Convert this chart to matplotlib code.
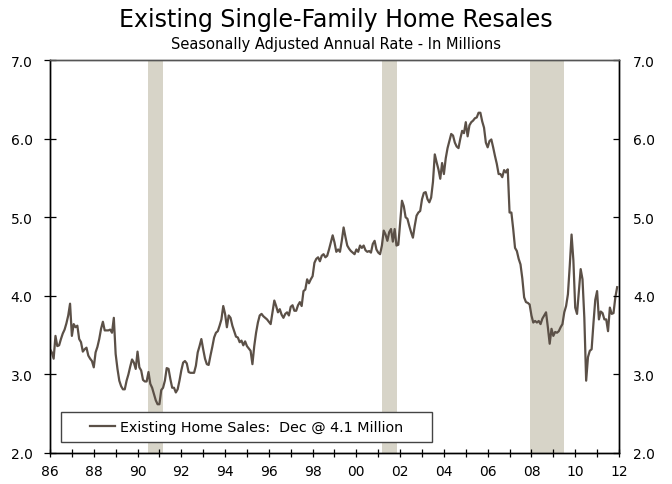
import numpy as np
import matplotlib
matplotlib.use("Agg")
import matplotlib.pyplot as plt
from matplotlib.patches import Rectangle

# monthly existing single-family home sales, SAAR, millions (Jan 1986 - Dec 2011)
start_year = 1986
sales = [
    3.32, 3.28, 3.20, 3.49, 3.36, 3.37, 3.45, 3.52, 3.57, 3.65, 3.75, 3.90,  # 86
    3.49, 3.64, 3.60, 3.62, 3.45, 3.41, 3.29, 3.32, 3.34, 3.24, 3.20, 3.17,  # 87
    3.09, 3.28, 3.35, 3.45, 3.58, 3.67, 3.56, 3.56, 3.56, 3.57, 3.53, 3.72,  # 88
    3.26, 3.07, 2.92, 2.85, 2.81, 2.81, 2.92, 3.00, 3.10, 3.19, 3.15, 3.07,  # 89
    3.29, 3.09, 3.05, 2.93, 2.91, 2.91, 3.03, 2.88, 2.83, 2.75, 2.67, 2.62,  # 90
    2.62, 2.80, 2.83, 2.92, 3.08, 3.07, 2.94, 2.83, 2.83, 2.77, 2.81, 2.92,  # 91
    3.05, 3.15, 3.17, 3.14, 3.03, 3.02, 3.02, 3.02, 3.11, 3.28, 3.36, 3.45,  # 92
    3.32, 3.20, 3.13, 3.12, 3.24, 3.35, 3.47, 3.53, 3.55, 3.62, 3.70, 3.87,  # 93
    3.77, 3.60, 3.75, 3.72, 3.62, 3.55, 3.48, 3.47, 3.41, 3.43, 3.37, 3.42,  # 94
    3.36, 3.33, 3.30, 3.13, 3.36, 3.53, 3.66, 3.75, 3.77, 3.74, 3.72, 3.70,  # 95
    3.67, 3.64, 3.79, 3.94, 3.87, 3.79, 3.83, 3.76, 3.72, 3.77, 3.79, 3.75,  # 96
    3.86, 3.88, 3.81, 3.81, 3.88, 3.92, 3.87, 4.06, 4.08, 4.21, 4.16, 4.21,  # 97
    4.25, 4.42, 4.47, 4.49, 4.44, 4.51, 4.53, 4.49, 4.51, 4.59, 4.68, 4.77,  # 98
    4.68, 4.56, 4.59, 4.56, 4.70, 4.87, 4.75, 4.64, 4.60, 4.57, 4.55, 4.53,  # 99
    4.59, 4.56, 4.64, 4.61, 4.64, 4.58, 4.56, 4.57, 4.55, 4.66, 4.70, 4.59,  # 00
    4.55, 4.53, 4.64, 4.83, 4.78, 4.70, 4.81, 4.85, 4.69, 4.85, 4.64, 4.65,  # 01
    4.93, 5.21, 5.14, 5.00, 4.98, 4.89, 4.81, 4.74, 4.89, 5.02, 5.06, 5.08,  # 02
    5.23, 5.31, 5.32, 5.23, 5.19, 5.25, 5.45, 5.80, 5.70, 5.61, 5.49, 5.69,  # 03
    5.55, 5.75, 5.88, 5.97, 6.06, 6.04, 5.95, 5.90, 5.88, 6.00, 6.10, 6.07,  # 04
    6.21, 6.03, 6.17, 6.21, 6.23, 6.26, 6.27, 6.33, 6.33, 6.22, 6.14, 5.95,  # 05
    5.89, 5.97, 5.99, 5.89, 5.78, 5.68, 5.55, 5.55, 5.51, 5.60, 5.57, 5.61,  # 06
    5.06, 5.06, 4.85, 4.61, 4.57, 4.47, 4.40, 4.22, 3.98, 3.92, 3.91, 3.89,  # 07
    3.75, 3.66, 3.68, 3.66, 3.68, 3.64, 3.71, 3.75, 3.79, 3.60, 3.39, 3.58,  # 08
    3.49, 3.54, 3.53, 3.55, 3.60, 3.64, 3.79, 3.87, 4.02, 4.38, 4.78, 4.45,  # 09
    3.85, 3.77, 4.05, 4.34, 4.21, 3.72, 2.92, 3.22, 3.30, 3.32, 3.65, 3.95,  # 10
    4.06, 3.70, 3.80, 3.78, 3.70, 3.70, 3.55, 3.85, 3.77, 3.78, 3.98, 4.11,  # 11
]

# NBER recessions (decimal years)
rec_start = [1990.5, 2001.17, 2007.92]
rec_end = [1991.17, 2001.87, 2009.5]

year_ticks = list(range(1986, 2013, 2))
year_labels = ["86", "88", "90", "92", "94", "96", "98", "00", "02", "04", "06", "08", "10", "12"]
y_ticks = [2.0, 3.0, 4.0, 5.0, 6.0, 7.0]

line_color = "#5b5047"
bar_color = "#d7d4c8"

x = start_year + np.arange(len(sales)) / 12.0

fig = plt.figure(figsize=(6.72, 4.85), dpi=100)
ax = fig.add_axes([0.0744, 0.064, 0.8467, 0.810])

for s, e in zip(rec_start, rec_end):
    ax.axvspan(s, e, color=bar_color, lw=0, zorder=1)

ax.plot(x, sales, color=line_color, lw=1.6, zorder=3,
        label="Existing Home Sales:  Dec @ 4.1 Million")

ax.set_xlim(1986, 2012)
ax.set_ylim(2.0, 7.0)
ax.set_xticks(year_ticks)
ax.set_xticklabels(year_labels)
ax.set_xticks(range(1987, 2012, 2), minor=True)
ax.set_yticks(y_ticks)
ax.set_yticklabels(["%.1f" % v for v in y_ticks])

ax.tick_params(axis="x", which="both", direction="inout", length=6, width=0.9,
               labelsize=10, pad=5, color="black")
ax.tick_params(axis="y", direction="inout", length=9, width=0.9,
               labelsize=10, pad=8)

ax2 = ax.twinx()
ax2.set_ylim(2.0, 7.0)
ax2.set_yticks(y_ticks)
ax2.set_yticklabels(["%.1f" % v for v in y_ticks])
ax2.tick_params(axis="y", direction="in", length=4, width=0.9, labelsize=10, pad=10)

for a in (ax, ax2):
    for side in ("left", "right", "bottom"):
        a.spines[side].set_color("black")
        a.spines[side].set_linewidth(1.0)
    a.spines["top"].set_color("#555555")
    a.spines["top"].set_linewidth(1.0)

# legend box
box = Rectangle((0.0193, 0.028), 0.652, 0.0763, transform=ax.transAxes,
                facecolor="white", edgecolor="#444444", lw=1.0, zorder=4)
ax.add_patch(box)
leg = ax.legend(loc="center", bbox_to_anchor=(0.345, 0.066), frameon=False,
                fontsize=10.3, handlelength=1.8, handletextpad=0.3)
leg.set_zorder(5)

fig.text(0.5, 0.958, "Existing Single-Family Home Resales", ha="center", va="center",
         fontsize=17, family=["Liberation Sans Narrow", "DejaVu Sans"])
fig.text(0.5, 0.908, "Seasonally Adjusted Annual Rate - In Millions", ha="center",
         va="center", fontsize=10.5, family=["Liberation Sans Narrow", "DejaVu Sans"])

fig.savefig("out.png", dpi=100)
